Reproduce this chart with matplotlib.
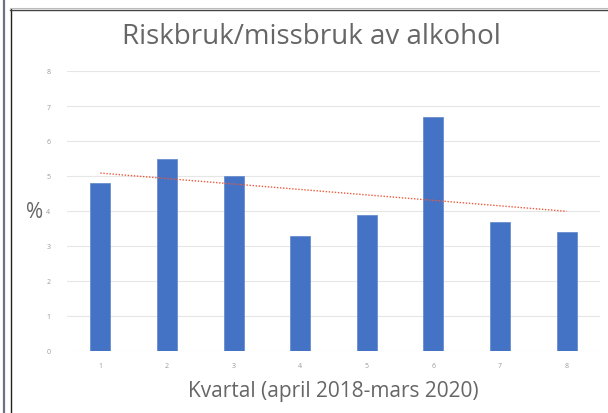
import numpy as np
import matplotlib
matplotlib.use("Agg")
import matplotlib.pyplot as plt
from matplotlib.lines import Line2D

categories = ["1", "2", "3", "4", "5", "6", "7", "8"]
values = [4.8, 5.5, 5.0, 3.3, 3.9, 6.7, 3.7, 3.4]
y_ticks = [0, 1, 2, 3, 4, 5, 6, 7, 8]
title = "Riskbruk/missbruk av alkohol"
xlabel = "Kvartal (april 2018-mars 2020)"
ylabel = "%"

plt.rcParams['font.family'] = ['Open Sans', 'DejaVu Sans']

W, H = 608, 414
fig = plt.figure(figsize=(W / 100, H / 100), dpi=100)
ax = fig.add_axes([67 / W, 1 - 352 / H, (600 - 67) / W, (352 - 72) / H])

x = np.arange(1, len(categories) + 1)
ax.bar(x, values, width=0.3, color="#4472C4", edgecolor="#6a8fd0", linewidth=0.6, zorder=2)

# linear trendline (Excel-style)
coef = np.polyfit(x, values, 1)
tx = np.array([x[0], x[-1]])
ax.plot(tx, np.polyval(coef, tx), linestyle=(0, (1, 1.2)), color="#EE5A3C", linewidth=1.0, zorder=3)

ax.set_xlim(0.5, len(categories) + 0.5)
ax.set_ylim(0, 8)
ax.set_yticks(y_ticks)
ax.set_yticklabels([str(v) for v in y_ticks])
ax.set_xticks(x)
ax.set_xticklabels(categories)
ax.tick_params(axis="both", length=0, labelsize=5, labelcolor="#9a9a9a")
ax.tick_params(axis="y", pad=12)
ax.tick_params(axis="x", pad=8)
ax.grid(axis="y", color="#e6e6e6", linewidth=0.8, zorder=0)
for s in ax.spines.values():
    s.set_visible(False)

fig.text(311 / W, 1 - 37 / H, title, ha="center", va="center", fontsize=20, color="#666666")
fig.text(333 / W, 1 - 392 / H, xlabel, ha="center", va="center", fontsize=15, color="#666666")
fig.text(35 / W, 1 - 213 / H, ylabel, ha="center", va="center", fontsize=15, color="#666666")

# outer frame lines
fig.add_artist(Line2D([3.5 / W, 3.5 / W], [0, 1], color="#6b7280", linewidth=1.6))
fig.add_artist(Line2D([10.5 / W, 10.5 / W], [0, 1 - 10 / H], color="#222222", linewidth=1.0))
fig.add_artist(Line2D([10 / W, 1], [1 - 10.5 / H, 1 - 10.5 / H], color="#444444", linewidth=1.0))
fig.add_artist(Line2D([10 / W, 1], [1 - 8.5 / H, 1 - 8.5 / H], color="#bbbbbb", linewidth=0.8))

fig.savefig("out.png", dpi=100)
